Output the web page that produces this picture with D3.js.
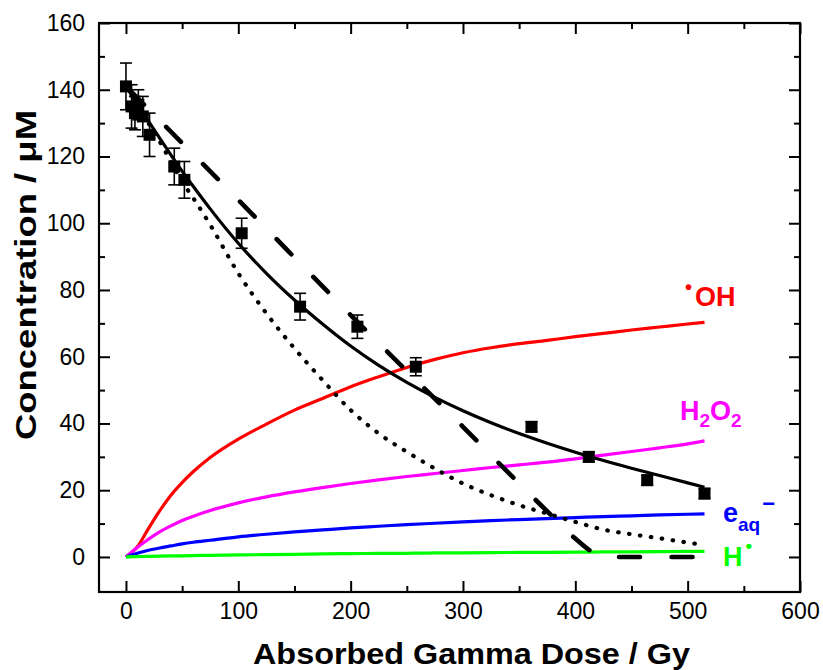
<!DOCTYPE html>
<html>
<head>
<meta charset="utf-8">
<script src="https://cdn.jsdelivr.net/npm/d3@7"></script>
<style>
  html, body { margin: 0; padding: 0; background: #fff; }
  svg { display: block; font-family: "Liberation Sans", Arial, Helvetica, sans-serif; }
</style>
</head>
<body>
<svg id="chart" width="823" height="670"></svg>
<script>
// Measured concentration (µM) with error bars vs absorbed dose (Gy)
const measDose = [0, 5, 8, 11, 15, 21, 43, 52, 103, 155, 206, 258, 361, 412, 464, 515];
const measConc = [141, 135, 133, 135.5, 132, 126.5, 117, 113, 97, 75, 69, 57, 39, 30, 23, 19];
const measErr  = [7, 6.5, 5, 4.5, 6, 6.5, 5.5, 5.5, 4.5, 4, 3.5, 2.7, 1.5, 1.5, 1.5, 1.5];

// Common dose grid for the model curves
const modelDose = [0, 10, 20, 30, 40, 50, 60, 75, 100, 125, 150, 175, 200, 225, 250, 275, 300, 325, 350, 375, 400, 425, 450, 475, 500, 515];
// Model fit (solid), faster-decay model (dotted)
const fitConc    = [141, 135.8, 130.6, 125.5, 120.5, 115.6, 111, 104.3, 94, 85, 77, 69.8, 63.2, 57.4, 52.3, 47.8, 43.8, 40.2, 37, 34.1, 31.4, 28.9, 26.6, 24.4, 22.2, 20.9];
const dottedConc = [141, 135.5, 130, 124.5, 118.5, 112.5, 107.5, 99.5, 85, 73, 62.5, 53, 44, 37, 31.5, 26.5, 22, 18.5, 15.5, 13, 10.5, 8.2, 6.8, 5.6, 4.3, 3.6];
// Radiolytic species
const ohConc   = [0, 3, 8.5, 13.8, 18.5, 22.3, 25.6, 29.8, 35.3, 39.8, 44, 47.5, 51, 54, 56.8, 59.2, 61.2, 62.7, 63.9, 64.9, 66, 67, 68, 68.9, 69.8, 70.3];
const h2o2Conc = [0, 2.8, 5.3, 7.5, 9.3, 10.9, 12.2, 13.9, 16.2, 18, 19.5, 20.8, 22, 23.1, 24.1, 25, 25.9, 26.8, 27.6, 28.4, 29.4, 30.5, 31.6, 32.7, 33.9, 34.8];
const eaqConc  = [0, 1.1, 2, 2.7, 3.3, 3.9, 4.4, 5, 6, 6.8, 7.5, 8.1, 8.7, 9.2, 9.7, 10.1, 10.5, 10.9, 11.2, 11.5, 11.8, 12.1, 12.3, 12.6, 12.8, 12.9];
const hConc    = [0, 0.1, 0.2, 0.25, 0.3, 0.35, 0.4, 0.5, 0.6, 0.7, 0.8, 0.9, 1.0, 1.05, 1.1, 1.2, 1.25, 1.3, 1.35, 1.4, 1.45, 1.5, 1.55, 1.6, 1.65, 1.7];

// Zero-order model (dashed)
const dashDose = [0, 100, 200, 300, 350, 380, 400, 415, 425, 515];
const dashConc = [141, 107, 72.5, 39, 22, 12, 5.5, 1.5, 0, 0];

// Axis ticks
const xMajor = [0, 100, 200, 300, 400, 500, 600];
const xMinor = [50, 150, 250, 350, 450, 550];
const xTickLabels = ["0", "100", "200", "300", "400", "500", "600"];
const yMajor = [0, 20, 40, 60, 80, 100, 120, 140, 160];
const yMinor = [10, 30, 50, 70, 90, 110, 130, 150];
const yTickLabels = ["0", "20", "40", "60", "80", "100", "120", "140", "160"];

const svg = d3.select("#chart");
const plotLeft = 99, plotRight = 800, plotTop = 23, plotBottom = 592;
const x = d3.scaleLinear().domain([-24, 600]).range([plotLeft, plotRight]);
const y = d3.scaleLinear().domain([-10.5, 160]).range([plotBottom, plotTop]);

const line = (xs, ys) => d3.line()
  .x((d, i) => x(xs[i]))
  .y((d, i) => y(ys[i]))
  .curve(d3.curveMonotoneX)(ys);

// Species curves
const species = [
  { values: ohConc,   color: "#ff0000" },
  { values: h2o2Conc, color: "#ff00ff" },
  { values: eaqConc,  color: "#0000ff" },
  { values: hConc,    color: "#00ff00" }
];
species.forEach(s => {
  svg.append("path")
    .attr("d", line(modelDose, s.values))
    .attr("fill", "none")
    .attr("stroke", s.color)
    .attr("stroke-width", 3.2);
});

// Black model curves
const dashLen = 21, dashGap = 31.5, dashTail = 12;
const dashed = svg.append("path")
  .attr("d", line(dashDose, dashConc))
  .attr("fill", "none").attr("stroke", "#000")
  .attr("stroke-width", 4.6)
  .attr("stroke-linecap", "round")
  .attr("stroke-dasharray", `${dashLen},${dashGap}`);
// phase the dash pattern so the curve ends on a short gap
const period = dashLen + dashGap;
const total = dashed.node().getTotalLength();
dashed.attr("stroke-dashoffset", (((dashLen + dashTail - total) % period) + period) % period);

svg.append("path")
  .attr("d", line(modelDose, dottedConc))
  .attr("fill", "none").attr("stroke", "#000")
  .attr("stroke-width", 4.2)
  .attr("stroke-linecap", "round")
  .attr("stroke-dasharray", "0.5,10.5");

svg.append("path")
  .attr("d", line(modelDose, fitConc))
  .attr("fill", "none").attr("stroke", "#000")
  .attr("stroke-width", 3.2);

// Measured points with error bars
const pts = svg.append("g");
measDose.forEach((d, i) => {
  const cx = x(d), cy = y(measConc[i]);
  const yHi = y(measConc[i] + measErr[i]), yLo = y(measConc[i] - measErr[i]);
  const g = pts.append("g").attr("stroke", "#000").attr("stroke-width", 1.6);
  g.append("line").attr("x1", cx).attr("x2", cx).attr("y1", yHi).attr("y2", yLo);
  g.append("line").attr("x1", cx - 6).attr("x2", cx + 6).attr("y1", yHi).attr("y2", yHi);
  g.append("line").attr("x1", cx - 6).attr("x2", cx + 6).attr("y1", yLo).attr("y2", yLo);
  pts.append("rect")
    .attr("x", cx - 6).attr("y", cy - 6)
    .attr("width", 12).attr("height", 12)
    .attr("fill", "#000");
});

// Axes: inward ticks on all four sides
function styleAxis(g) {
  g.select(".domain").remove();
  g.selectAll(".tick line").attr("stroke", "#000").attr("stroke-width", 2);
  g.selectAll(".tick text").attr("fill", "#000").attr("font-size", 23)
    .attr("font-family", "'Liberation Sans', Arial, sans-serif");
}
svg.append("g").attr("transform", `translate(0,${plotBottom})`)
  .call(d3.axisBottom(x).tickValues(xMajor).tickSize(-11).tickPadding(11)
    .tickFormat((d, i) => xTickLabels[i])).call(styleAxis);
svg.append("g").attr("transform", `translate(0,${plotBottom})`)
  .call(d3.axisBottom(x).tickValues(xMinor).tickSize(-6).tickFormat("")).call(styleAxis);
svg.append("g").attr("transform", `translate(0,${plotTop})`)
  .call(d3.axisTop(x).tickValues(xMajor).tickSize(-11).tickFormat("")).call(styleAxis);
svg.append("g").attr("transform", `translate(0,${plotTop})`)
  .call(d3.axisTop(x).tickValues(xMinor).tickSize(-6).tickFormat("")).call(styleAxis);
svg.append("g").attr("transform", `translate(${plotLeft},0)`)
  .call(d3.axisLeft(y).tickValues(yMajor).tickSize(-11).tickPadding(14)
    .tickFormat((d, i) => yTickLabels[i])).call(styleAxis);
svg.append("g").attr("transform", `translate(${plotLeft},0)`)
  .call(d3.axisLeft(y).tickValues(yMinor).tickSize(-6).tickFormat("")).call(styleAxis);
svg.append("g").attr("transform", `translate(${plotRight},0)`)
  .call(d3.axisRight(y).tickValues(yMajor).tickSize(-11).tickFormat("")).call(styleAxis);
svg.append("g").attr("transform", `translate(${plotRight},0)`)
  .call(d3.axisRight(y).tickValues(yMinor).tickSize(-6).tickFormat("")).call(styleAxis);

// Plot frame
svg.append("rect")
  .attr("x", plotLeft).attr("y", plotTop)
  .attr("width", plotRight - plotLeft).attr("height", plotBottom - plotTop)
  .attr("fill", "none").attr("stroke", "#000").attr("stroke-width", 2.2);

// Axis titles
svg.append("text")
  .attr("x", 471.5).attr("y", 664)
  .attr("text-anchor", "middle")
  .attr("font-size", 29).attr("font-weight", "bold")
  .attr("textLength", 437).attr("lengthAdjust", "spacingAndGlyphs")
  .text("Absorbed Gamma Dose / Gy");

svg.append("text")
  .attr("transform", "translate(36,275) rotate(-90)")
  .attr("text-anchor", "middle")
  .attr("font-size", 30).attr("font-weight", "bold")
  .attr("textLength", 330).attr("lengthAdjust", "spacingAndGlyphs")
  .text("Concentration / μM");

// Species labels
const oh = svg.append("text").attr("x", 685).attr("y", 306)
  .attr("fill", "#ff0000").attr("font-size", 27).attr("font-weight", "bold");
oh.append("tspan").attr("font-size", 20).attr("dy", -12).text("•");
oh.append("tspan").attr("dy", 12).attr("dx", 3).text("OH");

const h2o2 = svg.append("text").attr("x", 680).attr("y", 420)
  .attr("fill", "#ff00ff").attr("font-size", 27).attr("font-weight", "bold");
h2o2.append("tspan").text("H");
h2o2.append("tspan").attr("font-size", 19).attr("dy", 7).text("2");
h2o2.append("tspan").attr("dy", -7).text("O");
h2o2.append("tspan").attr("font-size", 19).attr("dy", 7).text("2");

const eaq = svg.append("text").attr("x", 723).attr("y", 522)
  .attr("fill", "#0000ff").attr("font-size", 27).attr("font-weight", "bold");
eaq.append("tspan").text("e");
eaq.append("tspan").attr("font-size", 19).attr("dy", 9).text("aq");
eaq.append("tspan").attr("font-size", 22).attr("dy", -20).attr("dx", 2).text("−");

const hr = svg.append("text").attr("x", 723).attr("y", 566)
  .attr("fill", "#00ff00").attr("font-size", 27).attr("font-weight", "bold");
hr.append("tspan").text("H");
hr.append("tspan").attr("font-size", 19).attr("dy", -14).attr("dx", 3).text("•");
</script>
</body>
</html>
